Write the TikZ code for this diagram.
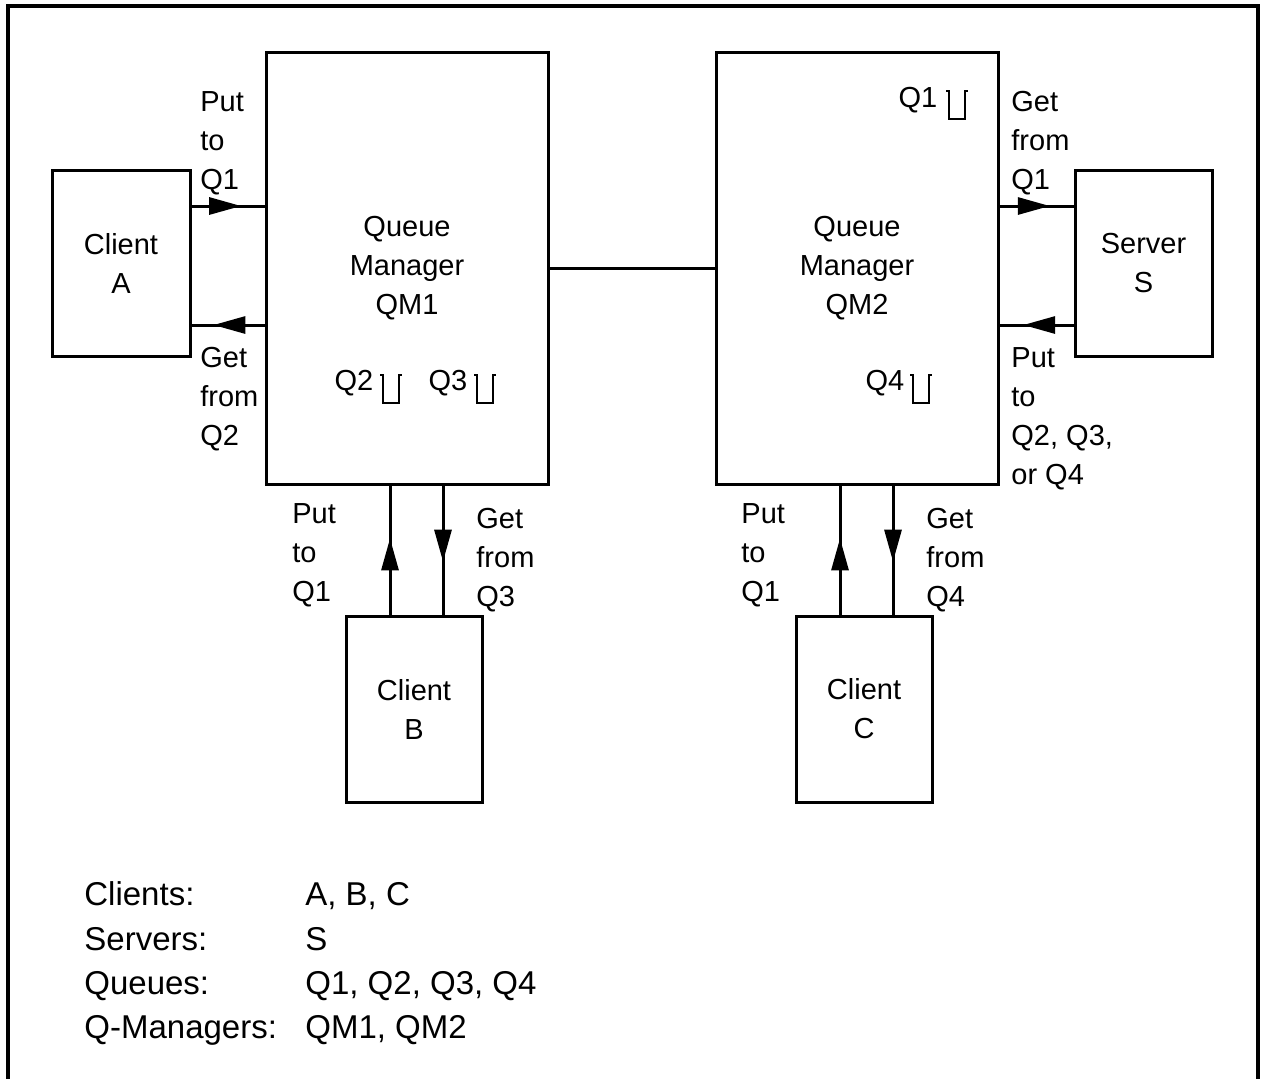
\documentclass[tikz,border=0pt]{standalone}
\usepackage{fontspec}
\setmainfont{Liberation Sans}
\usetikzlibrary{arrows.meta,decorations.markings}

\tikzset{
  box/.style={draw, line width=1.5pt, align=center, inner sep=0pt},
  lbl/.style={align=left, anchor=west, inner sep=0pt},
  key/.style={anchor=base west, inner sep=0pt, font=\fontsize{16.5pt}{22pt}\selectfont},
  flow/.style={line width=1.5pt, postaction={decorate},
    decoration={markings, mark=at position #1 with {\arrow{Triangle[length=16pt,width=8.5pt]}}}},
  flow/.default=0.68,
  qsym/.pic={\draw[line width=1.2pt] (-3,0) -- (0,0) -- (0,28) -- (16,28) -- (16,0) -- (19,0);}
}

\begin{document}
\begin{tikzpicture}[x=0.5pt, y=-0.5pt, font=\fontsize{14.5pt}{19.5pt}\selectfont]
    \useasboundingbox (0,0) rectangle (1261,1078);
    % Cadre (ouvert en bas)
    \draw[line width=2pt] (8,1100) -- (8,6) -- (1258,6) -- (1258,1100);

    % Boites
    \node[box, minimum width=69pt, minimum height=93pt] (clientA) at (121,263) {Client\\A};
    \node[box, minimum width=141pt, minimum height=216pt] (qm1) at (407,268) {Queue\\Manager\\QM1};
    \node[box, minimum width=141pt, minimum height=216pt] (qm2) at (857,268) {Queue\\Manager\\QM2};
    \node[box, minimum width=68.5pt, minimum height=93pt] (server) at (1143.5,263) {Server\\S};
    \node[box, minimum width=68pt, minimum height=93pt] (clientB) at (414,709) {Client\\B};
    \node[box, minimum width=68pt, minimum height=93pt] (clientC) at (864,709) {Client\\C};

    % Files
    \node[inner sep=0pt] (q2) at (354,383) {Q2};
    \pic at (383,375) {qsym};
    \node[inner sep=0pt] (q3) at (448,383) {Q3};
    \pic at (477,375) {qsym};
    \node[inner sep=0pt] (q1) at (918,100) {Q1};
    \pic at (949,91) {qsym};
    \node[inner sep=0pt] (q4) at (885,383) {Q4};
    \pic at (913,375) {qsym};

    % Liaison QM1 - QM2
    \draw[line width=1.5pt] (qm1) -- (qm2);

    % Flux
    \draw[flow] (clientA.east |- 0,206) -- (qm1.west |- 0,206);
    \draw[flow=0.7] (qm1.west |- 0,325) -- (clientA.east |- 0,325);
    \draw[flow] (qm2.east |- 0,206) -- (server.west |- 0,206);
    \draw[flow] (server.west |- 0,325) -- (qm2.east |- 0,325);
    \draw[flow=0.59] (clientB.north -| 390,0) -- (qm1.south -| 390,0);
    \draw[flow=0.59] (qm1.south -| 443,0) -- (clientB.north -| 443,0);
    \draw[flow=0.59] (clientC.north -| 840,0) -- (qm2.south -| 840,0);
    \draw[flow=0.59] (qm2.south -| 893,0) -- (clientC.north -| 893,0);

    % Annotations
    \node[lbl] (putA) at (200,143) {Put\\to\\Q1};
    \node[lbl] (getA) at (200,399) {Get\\from\\Q2};
    \node[lbl] (getS) at (1011,143) {Get\\from\\Q1};
    \node[lbl] (putS) at (1011,418.5) {Put\\to\\Q2, Q3,\\or Q4};
    \node[lbl] (putB) at (292,555) {Put\\to\\Q1};
    \node[lbl] (getB) at (476,560) {Get\\from\\Q3};
    \node[lbl] (putC) at (741,555) {Put\\to\\Q1};
    \node[lbl] (getC) at (926,560) {Get\\from\\Q4};

    % Legende
    \node[key] (kClients) at (84,905) {Clients:};
    \node[key] (vClients) at (305,905) {A, B, C};
    \node[key] (kServers) at (84,950) {Servers:};
    \node[key] (vServers) at (305,950) {S};
    \node[key] (kQueues) at (84,994) {Queues:};
    \node[key] (vQueues) at (305,994) {Q1, Q2, Q3, Q4};
    \node[key] (kQM) at (84,1038) {Q-Managers:};
    \node[key] (vQM) at (305,1038) {QM1, QM2};
\end{tikzpicture}
\end{document}
